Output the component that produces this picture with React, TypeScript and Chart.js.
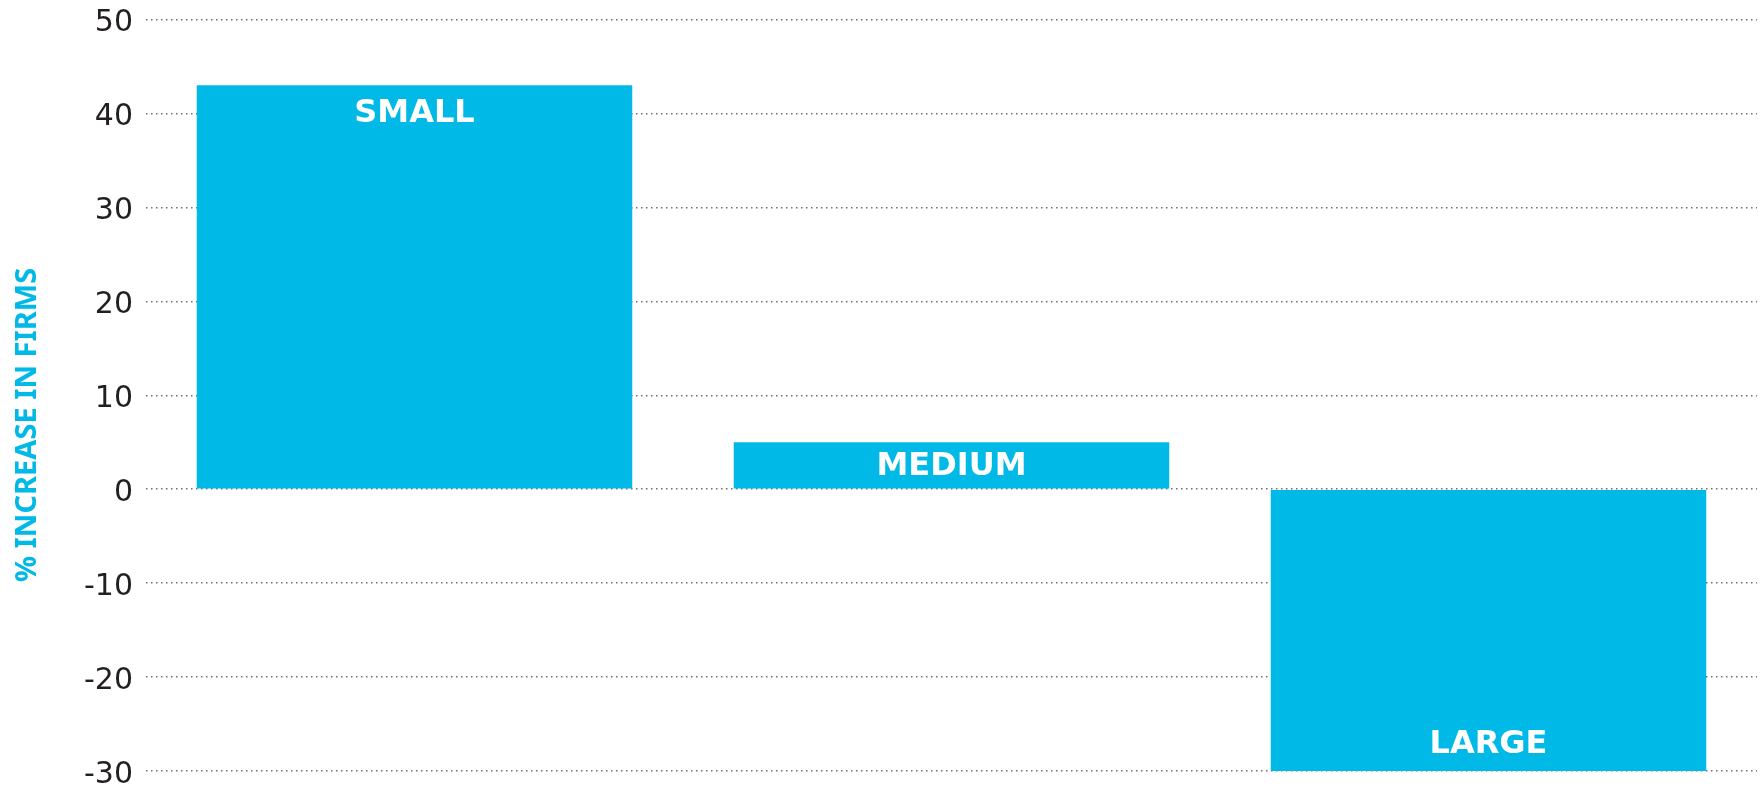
import React, { useEffect, useRef } from "react";
import { Chart, registerables } from "chart.js";

Chart.register(...registerables);

const categories = ["SMALL", "MEDIUM", "LARGE"];
const increaseValues = [43, 5, -30];
const yMin = -30;
const yMax = 50;
const yStep = 10;
const axisTitle = "% INCREASE IN FIRMS";

const BAR_COLOR = "#00B9E7";
const TICK_COLOR = "#231F20";

const barLabelPlugin = {
  id: "barLabels",
  afterDatasetsDraw(chart: any) {
    const ctx = chart.ctx;
    const meta = chart.getDatasetMeta(0);
    ctx.save();
    ctx.fillStyle = "#FFFFFF";
    ctx.font = "bold 32px 'DejaVu Sans'";
    ctx.textAlign = "center";
    ctx.textBaseline = "middle";
    meta.data.forEach((bar: any, i: number) => {
      const props = bar.getProps(["x", "y", "base"], true);
      const top = Math.min(props.y, props.base);
      const bottom = Math.max(props.y, props.base);
      const center = (top + bottom) / 2;
      const v = increaseValues[i];
      let y: number;
      if (v >= 0) y = Math.min(top + 27, center);
      else y = Math.max(bottom - 27, center);
      ctx.fillText(categories[i], props.x, y + 1);
    });
    ctx.restore();
  },
};

const axisTitlePlugin = {
  id: "axisTitleCustom",
  afterDraw(chart: any) {
    const ctx = chart.ctx;
    ctx.save();
    ctx.translate(28, 425);
    ctx.rotate(-Math.PI / 2);
    ctx.fillStyle = BAR_COLOR;
    ctx.font = "bold 29px 'Noto Sans'";
    ctx.textAlign = "center";
    ctx.textBaseline = "middle";
    ctx.fillText(axisTitle, 0, 0);
    ctx.restore();
  },
};

export default function App() {
  const canvasRef = useRef<HTMLCanvasElement | null>(null);

  useEffect(() => {
    document.body.style.margin = "0";
    const canvas = canvasRef.current;
    if (!canvas) return;
    const chart = new Chart(canvas, {
      type: "bar",
      data: {
        labels: categories,
        datasets: [
          {
            data: increaseValues,
            backgroundColor: BAR_COLOR,
            borderWidth: 0,
            barPercentage: 0.811,
            categoryPercentage: 1,
          },
        ],
      },
      options: {
        responsive: false,
        animation: false,
        maintainAspectRatio: false,
        layout: { padding: { left: 0, right: 7, top: 19.5, bottom: 18 } },
        plugins: {
          legend: { display: false },
          tooltip: { enabled: false },
        },
        scales: {
          x: { display: false },
          y: {
            min: yMin,
            max: yMax,
            afterFit(scale: any) {
              scale.width = 146;
            },
            ticks: {
              stepSize: yStep,
              color: TICK_COLOR,
              padding: 0,
              labelOffset: 4,
              font: { family: "'DejaVu Sans'", size: 30, weight: "normal" as any },
            },
            grid: {
              color: "#6f6f6f",
              lineWidth: 1.5,
              drawTicks: true,
              tickLength: 13,
              tickColor: "rgba(0,0,0,0)",
            },
            border: { display: false, dash: [1.5, 3.5] },
          },
        },
      },
      plugins: [barLabelPlugin, axisTitlePlugin],
    });
    return () => chart.destroy();
  }, []);

  return (
    <div style={{ width: 1764, height: 789 }}>
      <canvas ref={canvasRef} width={1764} height={789} style={{ display: "block" }} />
    </div>
  );
}
